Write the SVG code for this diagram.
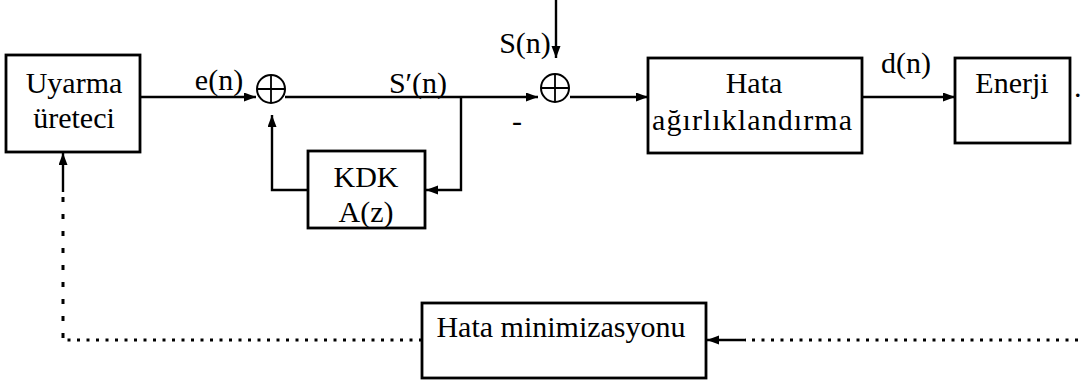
<svg xmlns="http://www.w3.org/2000/svg" width="1084" height="387" viewBox="0 0 1084 387">
<style>
.box{fill:#fff;stroke:#000;stroke-width:2.8}
.t{font-family:"Liberation Serif","Times New Roman",serif;font-size:30px;fill:#000}
.c{text-anchor:middle}
.ln{fill:none;stroke:#000;stroke-width:2.4}
.dot{fill:none;stroke:#000;stroke-width:3;stroke-dasharray:3 6.5}
.dash{fill:none;stroke:#000;stroke-width:3;stroke-dasharray:5 12}
.sum{fill:#fff;stroke:#000;stroke-width:2}
</style>
<defs>
<marker id="ah" markerUnits="userSpaceOnUse" markerWidth="13" markerHeight="10" refX="12" refY="4.5" orient="auto">
<path d="M0,0 L12,4.5 L0,9 z" fill="#000"/>
</marker>
</defs>
<rect width="1084" height="387" fill="#fff"/>
<g id="connectors">
<path class="ln" d="M140,97 H256" marker-end="url(#ah)"/>
<path class="ln" d="M285,97 H538" marker-end="url(#ah)"/>
<path class="ln" d="M461,97 V190 H426" marker-end="url(#ah)"/>
<path class="ln" d="M308,190 H272 V115" marker-end="url(#ah)"/>
<path class="ln" d="M570,97 H648" marker-end="url(#ah)"/>
<path class="ln" d="M862,97 H955" marker-end="url(#ah)"/>
<path class="ln" d="M556,0 V58" marker-end="url(#ah)"/>
<path class="dot" d="M1078,340 H745"/>
<path class="ln" d="M746,340 H707" marker-end="url(#ah)"/>
<path class="dot" d="M422,340 H63"/>
<path class="dash" d="M63,338 V196"/>
<path class="ln" d="M63,192 V153" marker-end="url(#ah)"/>
</g>
<g id="sum1">
<circle class="sum" cx="271" cy="89" r="14"/>
<path class="ln" d="M257,89 H285 M271,75 V103" style="stroke-width:1.8"/>
</g>
<g id="sum2">
<circle class="sum" cx="555" cy="88" r="14"/>
<path class="ln" d="M541,88 H569 M555,74 V102" style="stroke-width:1.8"/>
</g>
<g id="uyarma">
<rect class="box" x="6" y="55" width="134" height="97"/>
<text class="t c" x="74" y="93">Uyarma</text>
<text class="t c" x="74" y="128">üreteci</text>
</g>
<g id="kdk">
<rect class="box" x="308" y="151" width="117" height="77"/>
<text class="t c" x="366" y="187">KDK</text>
<text class="t c" x="366" y="222">A(z)</text>
</g>
<g id="hata">
<rect class="box" x="648" y="58" width="214" height="95"/>
<text class="t c" x="754" y="93">Hata</text>
<text class="t c" x="752" y="130" textLength="200" lengthAdjust="spacing">ağırlıklandırma</text>
</g>
<g id="enerji">
<rect class="box" x="955" y="58" width="115" height="85"/>
<text class="t c" x="1012" y="93">Enerji</text>
</g>
<text class="t" x="1074" y="97">.</text>
<g id="minimizasyon">
<rect class="box" x="422" y="303" width="284" height="75"/>
<text class="t c" x="561" y="337">Hata minimizasyonu</text>
</g>
<g id="labels">
<text class="t c" x="219" y="90">e(n)</text>
<text class="t c" x="418" y="93">S′(n)</text>
<text class="t c" x="525" y="53">S(n)</text>
<text class="t c" x="517" y="131">-</text>
<text class="t c" x="906" y="73">d(n)</text>
</g>
</svg>
